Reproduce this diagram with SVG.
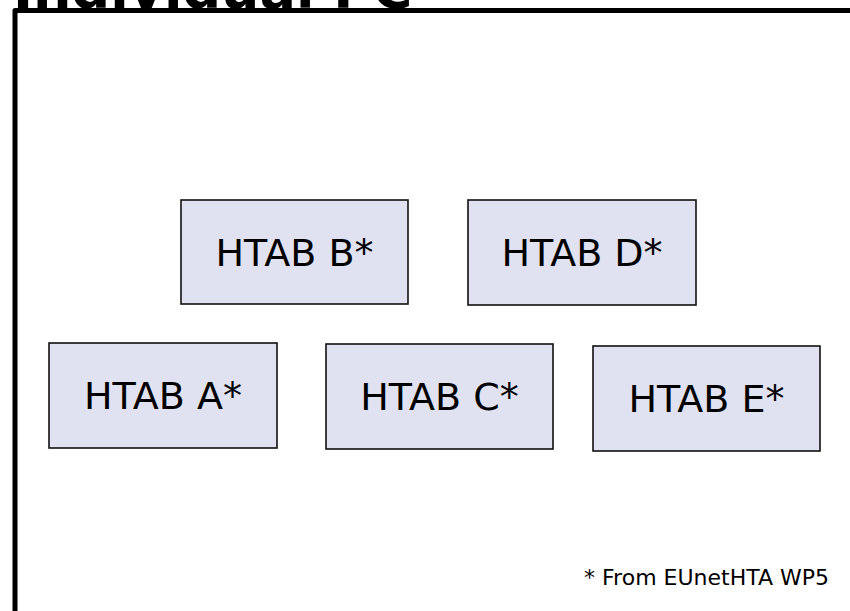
<svg xmlns="http://www.w3.org/2000/svg" width="850" height="611" viewBox="0 0 850 611">
  <style>
    .title { font-family: "DejaVu Sans", Verdana, sans-serif; font-weight: bold; font-size: 54px; fill: #000; }
    .frame { fill: none; stroke: #000; stroke-width: 5; stroke-linejoin: round; }
    .box rect { fill: #e0e2f1; stroke: #111; stroke-width: 1.6; }
    .box text { font-family: "DejaVu Sans", Verdana, sans-serif; font-size: 38px; fill: #000; text-anchor: middle; }
    .note { font-family: "DejaVu Sans", Verdana, sans-serif; font-size: 22px; fill: #000; text-anchor: end; }
  </style>
  <rect width="850" height="611" fill="#fff"/>

  <!-- slide heading, partly above the canvas -->
  <text class="title" x="13" y="8">Individual PC</text>

  <!-- frame -->
  <path class="frame" d="M15,611 V10.5 H850"/>

  <g id="htab-b" class="box">
    <rect x="181" y="200" width="227" height="104"/>
    <text x="294.5" y="266">HTAB B*</text>
  </g>
  <g id="htab-d" class="box">
    <rect x="468" y="200" width="228" height="105"/>
    <text x="582" y="266">HTAB D*</text>
  </g>
  <g id="htab-a" class="box">
    <rect x="49" y="343" width="228" height="105"/>
    <text x="163" y="409">HTAB A*</text>
  </g>
  <g id="htab-c" class="box">
    <rect x="326" y="344" width="227" height="105"/>
    <text x="439.5" y="410">HTAB C*</text>
  </g>
  <g id="htab-e" class="box">
    <rect x="593" y="346" width="227" height="105"/>
    <text x="706.5" y="412">HTAB E*</text>
  </g>

  <g id="connectors"></g>

  <text class="note" x="829" y="585">* From EUnetHTA WP5</text>
</svg>
